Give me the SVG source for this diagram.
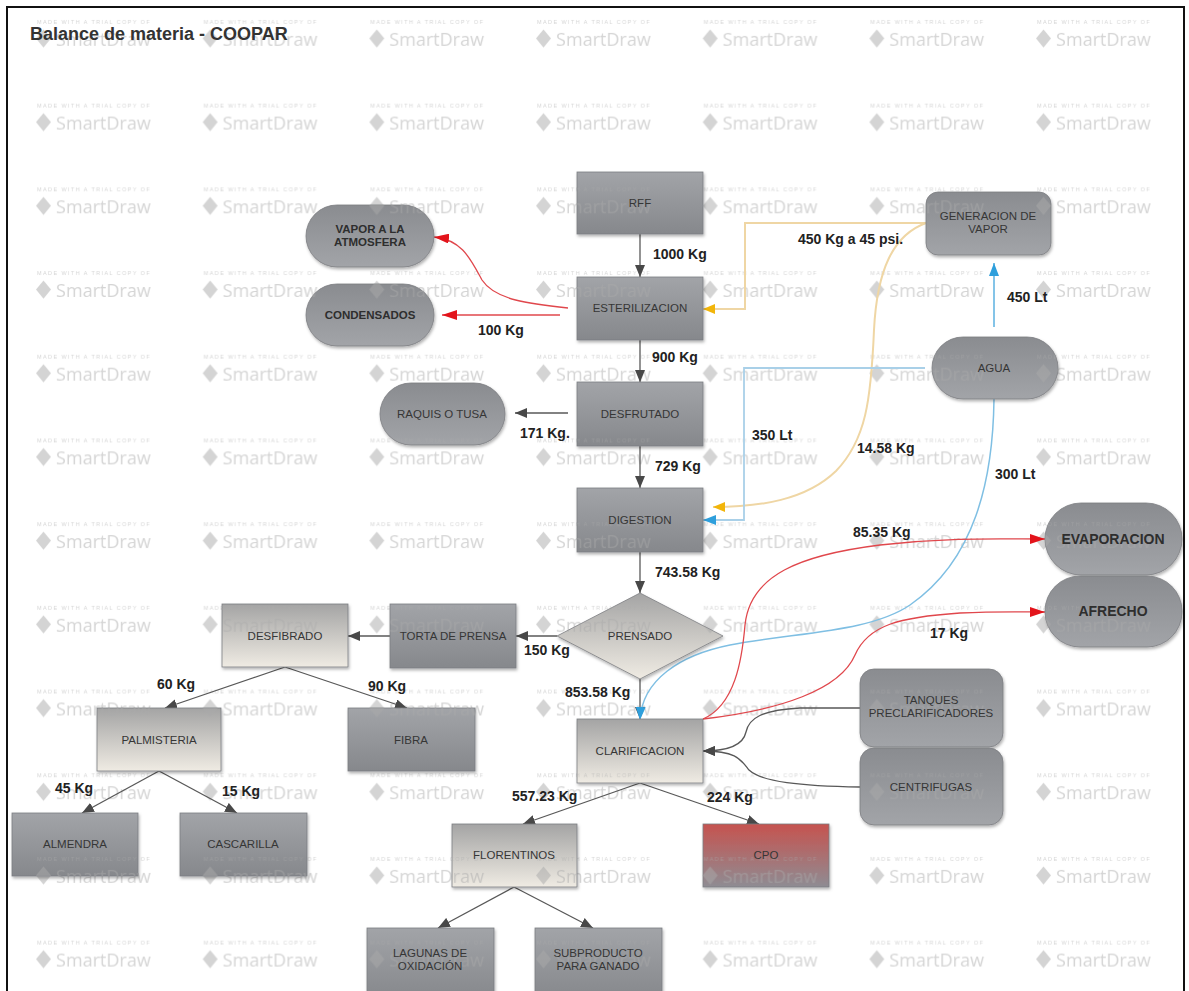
<svg xmlns="http://www.w3.org/2000/svg" width="1189" height="991" viewBox="0 0 1189 991">
<style>
.nt{font-family:"Liberation Sans",Arial,sans-serif;font-size:11.5px;fill:#363636;text-anchor:middle}
.nb{font-family:"Liberation Sans",Arial,sans-serif;font-size:11.5px;font-weight:bold;fill:#2e2e2e;text-anchor:middle}
.nB{font-family:"Liberation Sans",Arial,sans-serif;font-size:14px;font-weight:bold;fill:#2e2e2e;text-anchor:middle}
.el{font-family:"Liberation Sans",Arial,sans-serif;font-size:14px;font-weight:bold;fill:#222}
.wms{font-family:"Liberation Sans",Arial,sans-serif;font-size:5.5px;letter-spacing:1.4px}
.wml{font-family:"Open Sans","Liberation Sans",sans-serif;font-size:18px}
.box{stroke:#7c7e82;stroke-width:0.8;filter:url(#sh)}
.cg{fill:none;stroke:#585858;stroke-width:1.3;marker-end:url(#ag)}
.cr{fill:none;stroke:#e0474c;stroke-width:1.3;marker-end:url(#ar)}
.cb{fill:none;stroke:#8cc4e6;stroke-width:1.8;marker-end:url(#ab)}
.cy{fill:none;stroke:#efd6a4;stroke-width:2;marker-end:url(#ay)}
</style>
<defs>
<linearGradient id="gR" x1="0" y1="0" x2="0" y2="1"><stop offset="0" stop-color="#a2a4a8"/><stop offset="1" stop-color="#86888c"/></linearGradient>
<linearGradient id="gP" x1="0" y1="0" x2="0" y2="1"><stop offset="0" stop-color="#8a8c90"/><stop offset="1" stop-color="#a2a4a8"/></linearGradient>
<linearGradient id="gL" x1="0" y1="0" x2="0" y2="1"><stop offset="0" stop-color="#a4a4a4"/><stop offset="1" stop-color="#efebe3"/></linearGradient>
<linearGradient id="gC" x1="0" y1="0" x2="0" y2="1"><stop offset="0" stop-color="#c6534f"/><stop offset="1" stop-color="#8e8c93"/></linearGradient>
<filter id="sh" x="-10%" y="-10%" width="125%" height="135%"><feDropShadow dx="1" dy="2" stdDeviation="1.5" flood-color="#000" flood-opacity="0.3"/></filter>
<marker id="ag" viewBox="0 0 12 10" refX="12" refY="5" markerWidth="12" markerHeight="10" orient="auto" markerUnits="userSpaceOnUse"><path d="M0,0 L12,5 L0,10 z" fill="#484848"/></marker>
<marker id="ar" viewBox="0 0 15 10" refX="15" refY="5" markerWidth="15" markerHeight="10" orient="auto" markerUnits="userSpaceOnUse"><path d="M0,0 L15,5 L0,10 z" fill="#e3141b"/></marker>
<marker id="ab" viewBox="0 0 13 10" refX="13" refY="5" markerWidth="13" markerHeight="10" orient="auto" markerUnits="userSpaceOnUse"><path d="M0,0 L13,5 L0,10 z" fill="#2e9fdc"/></marker>
<marker id="ay" viewBox="0 0 12 10" refX="12" refY="5" markerWidth="12" markerHeight="10" orient="auto" markerUnits="userSpaceOnUse"><path d="M0,0 L12,5 L0,10 z" fill="#f2b50a"/></marker>
<pattern id="wm" patternUnits="userSpaceOnUse" x="35" y="10" width="166.67" height="83.7">
<g fill="#a9a9a9" fill-opacity="0.5">
<text class="wms" x="2" y="13.6">MADE WITH A TRIAL COPY OF</text>
<polygon points="8.5,19.5 16,28.5 8.5,37.5 1,28.5"/>
<text class="wml" x="21" y="36">SmartDraw</text>
</g>
</pattern>
</defs>

<rect x="0" y="0" width="1189" height="991" fill="#fff"/>
<rect id="watermark" x="7" y="7" width="1177" height="990" fill="url(#wm)"/>
<rect x="7" y="7" width="1177" height="1000" fill="none" stroke="#111" stroke-width="2"/>
<text x="30" y="40" font-family="Liberation Sans, Arial, sans-serif" font-size="18" font-weight="bold" fill="#333">Balance de materia - COOPAR</text>

<g id="connectors">
<path class="cg" d="M640,234 L640,277"/>
<path class="cr" d="M560,315 L442,315"/>
<path class="cr" d="M568,308 C530,304 495,300 482,280 C470,258 462,240 434,237"/>
<path class="cy" d="M926,223 L745,223 L745,309 L703,309"/>
<path class="cy" d="M926,223 C893,235 877,270 874,330 C871,400 866,440 836,471 C806,500 760,507 713,507"/>
<path class="cg" d="M640,340 L640,382"/>
<path class="cg" d="M568,413 L515,413"/>
<path class="cg" d="M640,446 L640,488"/>
<path class="cb" d="M994,327 L994,263" style="stroke:#5bb1e0;stroke-width:1.5"/>
<path class="cb" d="M925,368 L744,368 L744,520 L703,520" style="stroke:#a9d0e8"/>
<path class="cg" d="M640,552 L640,593"/>
<path class="cg" d="M557,636 L516,636"/>
<path class="cg" d="M390,636 L348,636"/>
<path class="cg" d="M285,667 L165,708"/>
<path class="cg" d="M285,667 L407,708"/>
<path class="cg" d="M640,679 L640,719"/>
<path class="cb" d="M994,399 C993,480 975,560 910,605 C870,632 800,632 730,645 C680,655 642,680 640,720" style="stroke:#7fbfe3;stroke-width:1.5"/>
<path class="cg" d="M159,771 L82,813"/>
<path class="cg" d="M159,771 L237,813"/>
<path class="cg" d="M640,783 L523,824"/>
<path class="cg" d="M640,783 L759,824"/>
<path class="cg" d="M514,887 L438,928"/>
<path class="cg" d="M514,887 L593,928"/>
<path class="cr" d="M703,719 C735,705 742,660 745,625 C750,575 800,555 880,545 C950,537 1000,539 1045,539"/>
<path class="cr" d="M703,719 C780,710 840,690 855,655 C868,625 900,617 960,613 C1000,611 1030,612 1045,612"/>
<path class="cg" d="M860,708 L800,708 C762,710 749,718 746,732 C743,746 725,751 703,751"/>
<path class="cg" d="M860,787 C800,786 762,782 749,770 C741,760 737,751 703,751"/>
</g>

<g id="edge-labels">
<text class="el" x="653" y="259">1000 Kg</text>
<text class="el" x="478" y="335">100 Kg</text>
<text class="el" x="652" y="362">900 Kg</text>
<text class="el" x="520" y="438">171 Kg.</text>
<text class="el" x="655" y="471">729 Kg</text>
<text class="el" x="655" y="577">743.58 Kg</text>
<text class="el" x="798" y="244">450 Kg a 45 psi.</text>
<text class="el" x="1007" y="302">450 Lt</text>
<text class="el" x="752" y="440">350 Lt</text>
<text class="el" x="857" y="453">14.58 Kg</text>
<text class="el" x="995" y="479">300 Lt</text>
<text class="el" x="853" y="537">85.35 Kg</text>
<text class="el" x="930" y="638">17 Kg</text>
<text class="el" x="524" y="655">150 Kg</text>
<text class="el" x="565" y="697">853.58 Kg</text>
<text class="el" x="157" y="689">60 Kg</text>
<text class="el" x="368" y="691">90 Kg</text>
<text class="el" x="55" y="793">45 Kg</text>
<text class="el" x="222" y="796">15 Kg</text>
<text class="el" x="512" y="801">557.23 Kg</text>
<text class="el" x="707" y="802">224 Kg</text>
</g>

<g id="n-rff"><rect class="box" x="577" y="172" width="126" height="62" fill="url(#gR)"/><rect x="577" y="172" width="126" height="62" fill="url(#wm)"/><text class="nt" x="640" y="207">RFF</text></g>
<g id="n-esterilizacion"><rect class="box" x="577" y="277" width="126" height="63" fill="url(#gR)"/><rect x="577" y="277" width="126" height="63" fill="url(#wm)"/><text class="nt" x="640" y="312">ESTERILIZACION</text></g>
<g id="n-vapor-atm"><rect class="box" x="306" y="205" width="128" height="62" rx="31" fill="url(#gP)"/><rect x="306" y="205" width="128" height="62" rx="31" fill="url(#wm)"/><text class="nb" x="370" y="233">VAPOR A LA</text><text class="nb" x="370" y="246">ATMOSFERA</text></g>
<g id="n-condensados"><rect class="box" x="306" y="284" width="128" height="62" rx="31" fill="url(#gP)"/><rect x="306" y="284" width="128" height="62" rx="31" fill="url(#wm)"/><text class="nb" x="370" y="319">CONDENSADOS</text></g>
<g id="n-generacion"><rect class="box" x="926" y="192" width="125" height="63" rx="12" fill="url(#gP)"/><rect x="926" y="192" width="125" height="63" rx="12" fill="url(#wm)"/><text class="nt" x="988" y="220">GENERACION DE</text><text class="nt" x="988" y="233">VAPOR</text></g>
<g id="n-agua"><rect class="box" x="932" y="337" width="126" height="62" rx="31" fill="url(#gP)"/><rect x="932" y="337" width="126" height="62" rx="31" fill="url(#wm)"/><text class="nt" x="994" y="372">AGUA</text></g>
<g id="n-desfrutado"><rect class="box" x="577" y="382" width="126" height="64" fill="url(#gR)"/><rect x="577" y="382" width="126" height="64" fill="url(#wm)"/><text class="nt" x="640" y="418">DESFRUTADO</text></g>
<g id="n-raquis"><rect class="box" x="380" y="383" width="125" height="62" rx="31" fill="url(#gP)"/><rect x="380" y="383" width="125" height="62" rx="31" fill="url(#wm)"/><text class="nt" x="442" y="418">RAQUIS O TUSA</text></g>
<g id="n-digestion"><rect class="box" x="577" y="488" width="126" height="64" fill="url(#gR)"/><rect x="577" y="488" width="126" height="64" fill="url(#wm)"/><text class="nt" x="640" y="524">DIGESTION</text></g>
<g id="n-prensado"><polygon class="box" points="640,593 723,636 640,679 557,636" fill="url(#gL)"/><polygon points="640,593 723,636 640,679 557,636" fill="url(#wm)"/><text class="nt" x="640" y="640">PRENSADO</text></g>
<g id="n-torta"><rect class="box" x="390" y="604" width="126" height="64" fill="url(#gR)"/><rect x="390" y="604" width="126" height="64" fill="url(#wm)"/><text class="nt" x="453" y="640">TORTA DE PRENSA</text></g>
<g id="n-desfibrado"><rect class="box" x="222" y="604" width="126" height="63" fill="url(#gL)"/><rect x="222" y="604" width="126" height="63" fill="url(#wm)"/><text class="nt" x="285" y="640">DESFIBRADO</text></g>
<g id="n-palmisteria"><rect class="box" x="97" y="708" width="124" height="63" fill="url(#gL)"/><rect x="97" y="708" width="124" height="63" fill="url(#wm)"/><text class="nt" x="159" y="744">PALMISTERIA</text></g>
<g id="n-fibra"><rect class="box" x="348" y="708" width="127" height="63" fill="url(#gR)"/><rect x="348" y="708" width="127" height="63" fill="url(#wm)"/><text class="nt" x="411" y="744">FIBRA</text></g>
<g id="n-clarificacion"><rect class="box" x="577" y="719" width="126" height="64" fill="url(#gL)"/><rect x="577" y="719" width="126" height="64" fill="url(#wm)"/><text class="nt" x="640" y="755">CLARIFICACION</text></g>
<g id="n-tanques"><rect class="box" x="860" y="669" width="143" height="78" rx="14" fill="url(#gP)"/><rect x="860" y="669" width="143" height="78" rx="14" fill="url(#wm)"/><text class="nt" x="931" y="704">TANQUES</text><text class="nt" x="931" y="717">PRECLARIFICADORES</text></g>
<g id="n-centrifugas"><rect class="box" x="860" y="748" width="143" height="77" rx="14" fill="url(#gP)"/><rect x="860" y="748" width="143" height="77" rx="14" fill="url(#wm)"/><text class="nt" x="931" y="791">CENTRIFUGAS</text></g>
<g id="n-evaporacion"><rect class="box" x="1045" y="503" width="137" height="72" rx="36" fill="url(#gP)"/><rect x="1045" y="503" width="137" height="72" rx="36" fill="url(#wm)"/><text class="nB" x="1113" y="544">EVAPORACION</text></g>
<g id="n-afrecho"><rect class="box" x="1045" y="576" width="137" height="71" rx="35" fill="url(#gP)"/><rect x="1045" y="576" width="137" height="71" rx="35" fill="url(#wm)"/><text class="nB" x="1113" y="616">AFRECHO</text></g>
<g id="n-almendra"><rect class="box" x="12" y="813" width="126" height="63" fill="url(#gR)"/><rect x="12" y="813" width="126" height="63" fill="url(#wm)"/><text class="nt" x="75" y="848">ALMENDRA</text></g>
<g id="n-cascarilla"><rect class="box" x="180" y="813" width="127" height="63" fill="url(#gR)"/><rect x="180" y="813" width="127" height="63" fill="url(#wm)"/><text class="nt" x="243" y="848">CASCARILLA</text></g>
<g id="n-florentinos"><rect class="box" x="452" y="824" width="125" height="63" fill="url(#gL)"/><rect x="452" y="824" width="125" height="63" fill="url(#wm)"/><text class="nt" x="514" y="859">FLORENTINOS</text></g>
<g id="n-cpo"><rect class="box" x="703" y="824" width="126" height="63" fill="url(#gC)"/><rect x="703" y="824" width="126" height="63" fill="url(#wm)"/><text class="nt" x="766" y="859">CPO</text></g>
<g id="n-lagunas"><rect class="box" x="367" y="928" width="127" height="70" fill="url(#gR)"/><rect x="367" y="928" width="127" height="70" fill="url(#wm)"/><text class="nt" x="430" y="957">LAGUNAS DE</text><text class="nt" x="430" y="970">OXIDACIÓN</text></g>
<g id="n-subproducto"><rect class="box" x="535" y="928" width="127" height="70" fill="url(#gR)"/><rect x="535" y="928" width="127" height="70" fill="url(#wm)"/><text class="nt" x="598" y="957">SUBPRODUCTO</text><text class="nt" x="598" y="970">PARA GANADO</text></g>
</svg>
